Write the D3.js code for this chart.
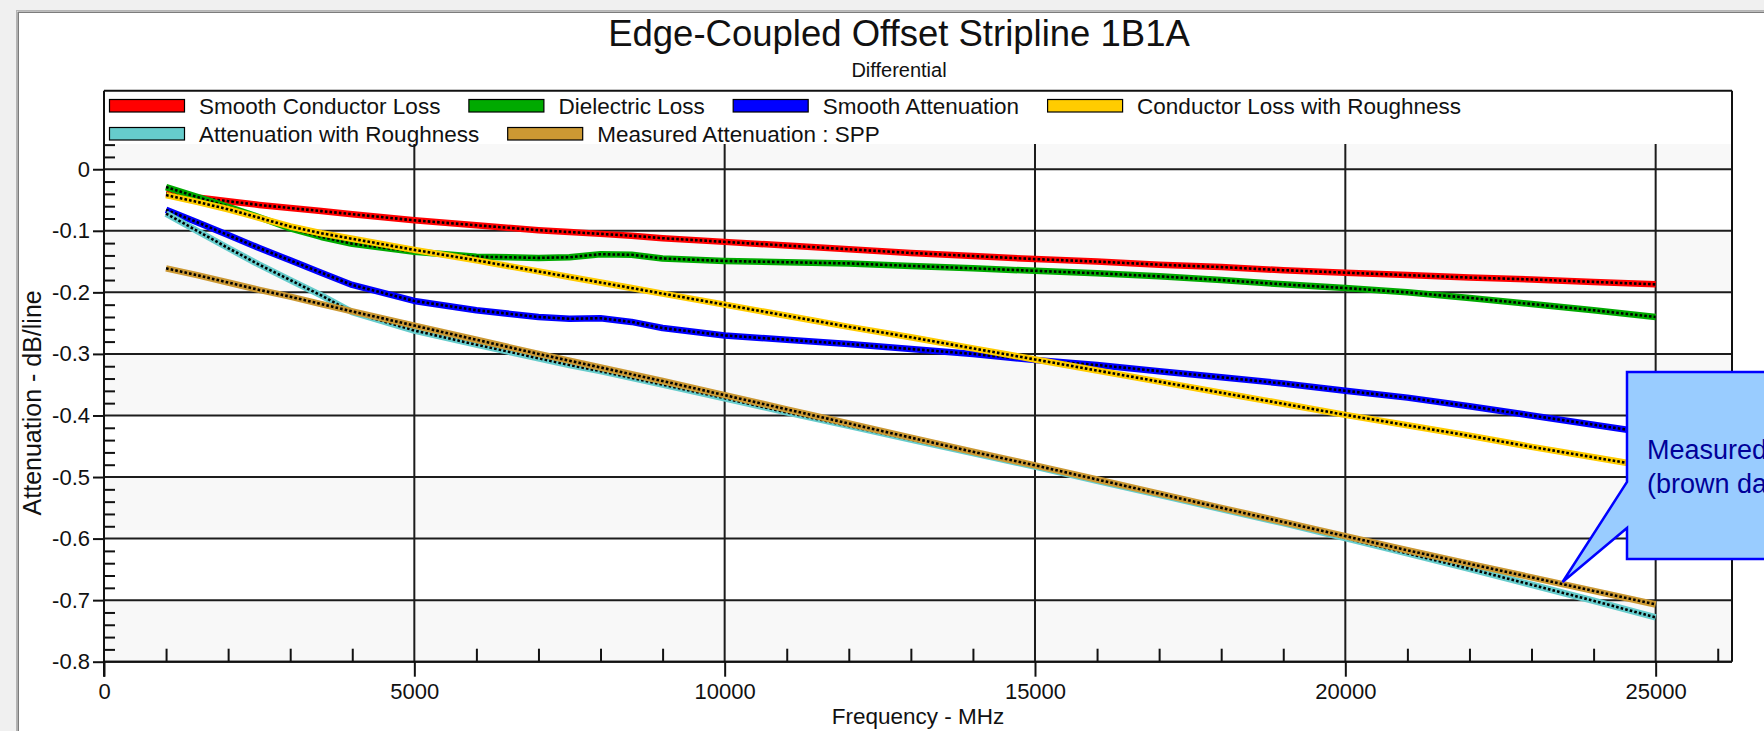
<!DOCTYPE html>
<html>
<head>
<meta charset="utf-8">
<script src="https://cdn.jsdelivr.net/npm/d3@7"></script>
<style>
  html, body { margin: 0; padding: 0; background: #f0f0f0; overflow: hidden; }
  svg { display: block; font-family: "Liberation Sans", Arial, sans-serif; }
</style>
</head>
<body>
<svg id="chart" width="1764" height="731"></svg>
<script>
// frequency points (MHz) shared by all series
const freqMHz = [1000, 1500, 2000, 2500, 3000, 3500, 4000, 5000, 6000, 7000, 7500, 8000, 8500, 9000,
  10000, 11000, 12000, 13000, 14000, 15000, 16000, 17000, 18000, 19000, 20000, 21000, 22000, 23000, 24000, 25000];

// attenuation, dB/line
const smoothConductorLoss = [-0.039, -0.046, -0.052, -0.058, -0.063, -0.068, -0.073, -0.083, -0.091, -0.099, -0.102, -0.105, -0.108, -0.112,
  -0.118, -0.124, -0.130, -0.136, -0.141, -0.146, -0.150, -0.155, -0.159, -0.164, -0.168, -0.172, -0.176, -0.179, -0.183, -0.187];
const dielectricLoss = [-0.029, -0.045, -0.061, -0.078, -0.096, -0.110, -0.121, -0.134, -0.142, -0.144, -0.143, -0.138, -0.139, -0.145,
  -0.149, -0.151, -0.153, -0.157, -0.161, -0.165, -0.169, -0.174, -0.180, -0.187, -0.193, -0.200, -0.209, -0.219, -0.229, -0.240];
const smoothAttenuation = [-0.066, -0.086, -0.107, -0.128, -0.148, -0.168, -0.188, -0.214, -0.229, -0.240, -0.243, -0.242, -0.248, -0.258,
  -0.270, -0.277, -0.284, -0.292, -0.300, -0.310, -0.318, -0.328, -0.338, -0.348, -0.360, -0.371, -0.385, -0.400, -0.415, -0.430];
const conductorLossRough = [-0.042, -0.053, -0.065, -0.079, -0.093, -0.104, -0.113, -0.131, -0.148, -0.166, -0.175, -0.184, -0.193, -0.202,
  -0.220, -0.238, -0.256, -0.273, -0.291, -0.309, -0.327, -0.345, -0.363, -0.381, -0.399, -0.416, -0.433, -0.451, -0.468, -0.485];
const attenuationRough = [-0.072, -0.100, -0.128, -0.155, -0.180, -0.205, -0.232, -0.262, -0.285, -0.307, -0.318, -0.328, -0.339, -0.350,
  -0.372, -0.395, -0.417, -0.439, -0.461, -0.483, -0.506, -0.529, -0.552, -0.575, -0.599, -0.624, -0.649, -0.675, -0.701, -0.728];
const measuredSPP = [-0.161, -0.172, -0.184, -0.196, -0.207, -0.219, -0.231, -0.254, -0.277, -0.300, -0.311, -0.322, -0.333, -0.344,
  -0.367, -0.390, -0.413, -0.436, -0.459, -0.481, -0.504, -0.527, -0.550, -0.573, -0.596, -0.619, -0.641, -0.663, -0.685, -0.707];

const seriesNames = ['Smooth Conductor Loss', 'Dielectric Loss', 'Smooth Attenuation',
  'Conductor Loss with Roughness', 'Attenuation with Roughness', 'Measured Attenuation : SPP'];
const seriesValues = [smoothConductorLoss, dielectricLoss, smoothAttenuation,
  conductorLossRough, attenuationRough, measuredSPP];
const seriesColors = ['#ff0000', '#00aa00', '#0000ff', '#ffcc00', '#66cccc', '#cc9933'];
const legendRows = [[0, 1, 2, 3], [4, 5]];

const yTicks = [0, -0.1, -0.2, -0.3, -0.4, -0.5, -0.6, -0.7, -0.8];
const xTicks = [0, 5000, 10000, 15000, 20000, 25000];

const titleText = 'Edge-Coupled Offset Stripline 1B1A';
const subtitleText = 'Differential';
const xLabel = 'Frequency - MHz';
const yLabel = 'Attenuation - dB/line';
const noteLines = ['Measured data', '(brown dashed)'];

// layout
const plotL = 104, plotR = 1732, plotT = 144, plotB = 661.7, legendTop = 90.7;

const svg = d3.select('#chart');

const x = d3.scaleLinear().domain([0, 26230]).range([plotL, plotR]);
const y = d3.scaleLinear().domain([-0.8, 0.041]).range([plotB, plotT]);

// window frame
svg.append('rect').attr('width', 1764).attr('height', 731).attr('fill', '#f0f0f0');
svg.append('rect')
  .attr('x', 16.5).attr('y', 10.5).attr('width', 1800).attr('height', 800)
  .attr('fill', '#fff').attr('stroke', '#b4b4b4').attr('stroke-width', 1);
svg.append('path')
  .attr('d', 'M18.2,740 V12.2 H1800')
  .attr('fill', 'none').attr('stroke', '#7c7c7c').attr('stroke-width', 1.6);

// alternate shaded bands
const bands = [[0, 0.041], [-0.2, -0.1], [-0.4, -0.3], [-0.6, -0.5], [-0.8, -0.7]];
svg.append('g').selectAll('rect')
  .data(bands)
  .join('rect')
  .attr('x', plotL)
  .attr('width', plotR - plotL)
  .attr('y', d => y(d[1]))
  .attr('height', d => y(d[0]) - y(d[1]))
  .attr('fill', '#f8f8f8');

// grid
const grid = svg.append('g').attr('stroke', '#1c1c1c').attr('stroke-width', 2);
grid.selectAll('.hg')
  .data(yTicks)
  .join('line')
  .attr('x1', plotL).attr('x2', plotR)
  .attr('y1', d => y(d)).attr('y2', d => y(d));
grid.selectAll('.vg')
  .data(xTicks.slice(1))
  .join('line')
  .attr('y1', plotT).attr('y2', plotB)
  .attr('x1', d => x(d)).attr('x2', d => x(d));

// series: thick coloured line with a black dotted line on top
const line = d3.line()
  .x((d, i) => x(freqMHz[i]))
  .y(d => y(d));

const series = svg.append('g').attr('fill', 'none');
seriesValues.forEach((vals, k) => {
  series.append('path')
    .attr('d', line(vals))
    .attr('stroke', seriesColors[k])
    .attr('stroke-width', 6.5)
    .attr('stroke-linejoin', 'round')
    .attr('stroke-linecap', 'butt');
  series.append('path')
    .attr('d', line(vals))
    .attr('stroke', '#000')
    .attr('stroke-width', 2.6)
    .attr('stroke-dasharray', '2.6,2.1');
});

// frame lines: legend top, y axis, x axis, right border
const frame = svg.append('g').attr('stroke', '#111').attr('stroke-width', 2);
frame.append('line').attr('x1', plotL).attr('x2', plotR).attr('y1', legendTop).attr('y2', legendTop);
frame.append('line').attr('x1', plotL).attr('x2', plotL).attr('y1', legendTop).attr('y2', plotB + 15);
frame.append('line').attr('x1', plotL).attr('x2', plotR).attr('y1', plotB).attr('y2', plotB);
frame.append('line').attr('x1', plotR).attr('x2', plotR).attr('y1', legendTop).attr('y2', plotB);

// y axis
const yAxis = svg.append('g')
  .attr('transform', `translate(${plotL},0)`)
  .call(d3.axisLeft(y).tickValues(yTicks).tickSize(11).tickPadding(3)
    .tickFormat(d => d === 0 ? '0' : d.toFixed(1)));
yAxis.select('.domain').remove();

const yMinor = d3.range(-39, 3).map(i => i * 0.02).filter(v => Math.abs(Math.round(v * 10) - v * 10) > 1e-6);
const yMinorAxis = svg.append('g')
  .attr('transform', `translate(${plotL},0)`)
  .call(d3.axisRight(y).tickValues(yMinor).tickSize(11).tickFormat(''));
yMinorAxis.select('.domain').remove();

// x axis
const xAxis = svg.append('g')
  .attr('transform', `translate(0,${plotB})`)
  .call(d3.axisBottom(x).tickValues(xTicks).tickSize(15).tickPadding(7).tickFormat(d => String(d)));
xAxis.select('.domain').remove();

const xMinor = d3.range(1, 27).map(i => i * 1000).filter(v => v % 5000 !== 0);
const xMinorAxis = svg.append('g')
  .attr('transform', `translate(0,${plotB})`)
  .call(d3.axisTop(x).tickValues(xMinor).tickSize(13).tickFormat(''));
xMinorAxis.select('.domain').remove();

svg.selectAll('.tick line').attr('stroke', '#111').attr('stroke-width', 2);
svg.selectAll('.tick text')
  .attr('font-size', 22)
  .attr('font-family', '"Liberation Sans", Arial, sans-serif')
  .attr('fill', '#111');

// legend
const legend = svg.append('g').attr('font-size', 22.5).attr('fill', '#111');
legendRows.forEach((row, r) => {
  let cx = 109;
  const sy = 99 + r * 28;
  row.forEach(k => {
    legend.append('rect')
      .attr('x', cx + 0.5).attr('y', sy + 0.5)
      .attr('width', 75).attr('height', 12.5)
      .attr('fill', seriesColors[k])
      .attr('stroke', '#000').attr('stroke-width', 1.2);
    const t = legend.append('text')
      .attr('x', cx + 90).attr('y', sy + 15.3)
      .text(seriesNames[k]);
    cx += 90 + t.node().getComputedTextLength() + 28;
  });
});

// titles
svg.append('text')
  .attr('x', 899).attr('y', 46)
  .attr('text-anchor', 'middle').attr('font-size', 36.5).attr('fill', '#111')
  .text(titleText);
svg.append('text')
  .attr('x', 899).attr('y', 77)
  .attr('text-anchor', 'middle').attr('font-size', 20).attr('fill', '#111')
  .text(subtitleText);
svg.append('text')
  .attr('x', (plotL + plotR) / 2).attr('y', 724)
  .attr('text-anchor', 'middle').attr('font-size', 22.5).attr('fill', '#111')
  .text(xLabel);
svg.append('text')
  .attr('transform', `translate(41,${(plotT + plotB) / 2}) rotate(-90)`)
  .attr('text-anchor', 'middle').attr('font-size', 25).attr('fill', '#111')
  .text(yLabel);

// callout pointing at the measured curve
const boxL = 1627, boxT = 372, boxB = 559;
const tip = [x(23500), y(-0.6705)];
svg.append('path')
  .attr('d', `M${boxL},${boxT} H1800 V${boxB} H${boxL} V528 L${tip[0]},${tip[1]} L${boxL},482 Z`)
  .attr('fill', '#99ccff')
  .attr('stroke', '#0000ff')
  .attr('stroke-width', 2.5)
  .attr('stroke-linejoin', 'miter');
svg.append('g')
  .attr('font-size', 27).attr('fill', '#000099')
  .selectAll('text')
  .data(noteLines)
  .join('text')
  .attr('x', 1647)
  .attr('y', (d, i) => 459 + i * 34)
  .text(d => d);
</script>
</body>
</html>
